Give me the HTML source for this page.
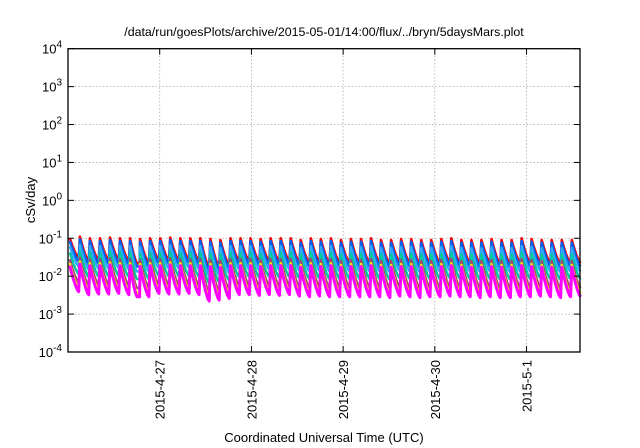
<!DOCTYPE html>
<html><head><meta charset="utf-8"><style>
html,body{margin:0;padding:0;background:#fff;}
svg{display:block;font-family:"Liberation Sans",sans-serif;}
</style></head><body>
<svg id="chart" width="640" height="448" viewBox="0 0 640 448" xmlns="http://www.w3.org/2000/svg">
<text x="324" y="36" font-size="12.4" text-anchor="middle">/data/run/goesPlots/archive/2015-05-01/14:00/flux/../bryn/5daysMars.plot</text>
<text transform="translate(35,200) rotate(-90)" font-size="13" text-anchor="middle">cSv/day</text>
<text x="324" y="442" font-size="13" text-anchor="middle">Coordinated Universal Time (UTC)</text>
<g id="grid"></g><g id="series"></g><g id="axes"></g>
</svg>
<script>
const xTickLabels = ["2015-4-27","2015-4-28","2015-4-29","2015-4-30","2015-5-1"];
const xTickDays = [1,2,3,4,5];
const yTickExps = [-4,-3,-2,-1,0,1,2,3,4];
const seriesColors = ["#ff0000","#0060f0","#30a8ff","#00c8a0","#a04870","#ffee00","#ff00ff"];
const seriesNames = ["red","blue","lightblue","teal","brown","yellow","magenta"];
const peakFactor = [1.0,0.85,0.62,0.42,0.28,0.22,0.19];
const troughFactor = [1.0,0.82,0.6,0.38,0.22,0.16,0.13];
const seriesWidth = [2.6,2.6,2.4,2.4,2.4,2.4,3];
const redPeaks = [0.1,0.11,0.1,0.1,0.105,0.1,0.1,0.095,0.1,0.1,0.105,0.1,0.1,0.1,0.095,0.09,0.1,0.1,0.1,0.095,0.1,0.1,0.1,0.09,0.1,0.095,0.1,0.09,0.095,0.095,0.1,0.09,0.09,0.095,0.095,0.09,0.09,0.095,0.1,0.09,0.09,0.09,0.095,0.09,0.09,0.1,0.095,0.09,0.09,0.09,0.09];
const redTroughs = [0.03,0.025,0.026,0.026,0.027,0.025,0.022,0.022,0.027,0.026,0.026,0.027,0.025,0.017,0.018,0.02,0.025,0.025,0.024,0.025,0.024,0.025,0.023,0.022,0.023,0.022,0.022,0.022,0.022,0.022,0.022,0.021,0.023,0.022,0.021,0.022,0.022,0.023,0.022,0.022,0.021,0.022,0.021,0.021,0.022,0.022,0.023,0.022,0.021,0.022,0.022];
const gapTeeth = [6];
const dayStart = 0, dayEnd = 5.583;
const L=68,R=580,T=48.7,B=352;
const NS="http://www.w3.org/2000/svg";
function xs(d){return L+(d-dayStart)/(dayEnd-dayStart)*(R-L);}
function ys(v){return B-(Math.log10(v)+4)/8*(B-T);}
function mk(tag,attrs,parent){const e=document.createElementNS(NS,tag);for(const k in attrs)e.setAttribute(k,attrs[k]);parent.appendChild(e);return e;}
const grid=document.getElementById('grid'),axes=document.getElementById('axes'),ser=document.getElementById('series');
yTickExps.forEach(e=>{
  const y=ys(Math.pow(10,e));
  if(e>-4&&e<4){const g=mk('line',{x1:L,x2:R,y1:y,y2:y,stroke:'#aaa','stroke-width':0.8,'stroke-dasharray':'1.5,2'},grid);
  
  }
  mk('line',{x1:L,x2:L+6,y1:y,y2:y,stroke:'#000','stroke-width':1},axes);
  mk('line',{x1:R-6,x2:R,y1:y,y2:y,stroke:'#000','stroke-width':1},axes);
  const t=mk('text',{x:L-6,y:y+5,'font-size':13,'text-anchor':'end'},axes);
  
  
  t.innerHTML='10<tspan dy="-6" font-size="10">'+e+'</tspan>';
});
xTickDays.forEach((d,i)=>{
  const x=xs(d);
  const g=mk('line',{x1:x,x2:x,y1:T,y2:B,stroke:'#aaa','stroke-width':0.8,'stroke-dasharray':'1.5,2'},grid);
  
  
  mk('line',{x1:x,x2:x,y1:B-6,y2:B,stroke:'#000','stroke-width':1},axes);
  mk('line',{x1:x,x2:x,y1:T,y2:T+6,stroke:'#000','stroke-width':1},axes);
  const t=mk('text',{transform:'translate('+(x+5)+','+(B+8)+') rotate(-90)','font-size':13,'text-anchor':'end'},axes);
  
  
  t.textContent=xTickLabels[i];
});
const fr=mk('rect',{x:L,y:T,width:R-L,height:B-T,fill:'none',stroke:'#000','stroke-width':1.3},axes);


const n=redPeaks.length, P=(dayEnd-dayStart)/n;
seriesColors.forEach((c,si)=>{
  let d='';
  for(let k=0;k<n;k++){
    const t0=dayStart+k*P+0.02;
    const pk=redPeaks[k]*peakFactor[si], tr=redTroughs[k]*troughFactor[si];
    if(gapTeeth.includes(k)){
      for(let j=0;j<=6;j++){const s=j/6;const lv=Math.log10(tr)+(Math.log10(pk)-Math.log10(tr))*Math.pow(1-s,1.4);
        d+=(d?'L':'M')+xs(t0+s*0.7*P).toFixed(1)+','+ys(Math.pow(10,lv)).toFixed(1);}
      d+='L'+xs(t0+0.95*P).toFixed(1)+','+ys(tr).toFixed(1);
      continue;}
    for(let j=0;j<=8;j++){
      const s=j/8;
      const lv=Math.log10(tr)+(Math.log10(pk)-Math.log10(tr))*Math.pow(1-s,1.4);
      d+=(d?'L':'M')+xs(t0+s*0.88*P).toFixed(1)+','+ys(Math.pow(10,lv)).toFixed(1);
    }
  }
  const p=mk('path',{d:d,fill:'none',stroke:c,'stroke-width':seriesWidth[si],'stroke-linejoin':'round'},ser);
  
  
});
</script>
</body></html>
